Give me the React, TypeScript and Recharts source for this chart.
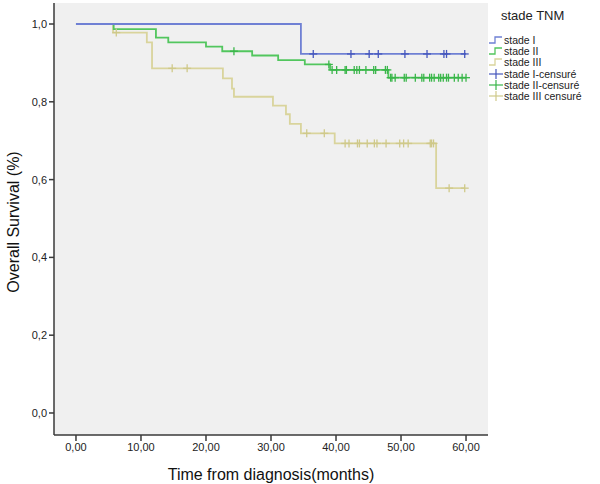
import React from "react"
import {
  ComposedChart,
  Line,
  Scatter,
  XAxis,
  YAxis,
  CartesianGrid,
} from "recharts"

// Kaplan-Meier steps (time in months, survival)
const stageI = [
  { t: 0, s: 1 },
  { t: 34.6, s: 0.923 },
  { t: 60, s: 0.923 },
]

const stageII = [
  { t: 0, s: 1 },
  { t: 5.8, s: 0.987 },
  { t: 12.3, s: 0.965 },
  { t: 14.2, s: 0.953 },
  { t: 20, s: 0.942 },
  { t: 22.5, s: 0.93 },
  { t: 27.1, s: 0.919 },
  { t: 31.1, s: 0.907 },
  { t: 35.2, s: 0.896 },
  { t: 39.1, s: 0.882 },
  { t: 48.05, s: 0.862 },
  { t: 60, s: 0.862 },
]

const stageIII = [
  { t: 0, s: 1 },
  { t: 5.7, s: 0.978 },
  { t: 10.9, s: 0.953 },
  { t: 11.7, s: 0.886 },
  { t: 22.6, s: 0.86 },
  { t: 24, s: 0.834 },
  { t: 24.3, s: 0.813 },
  { t: 30.3, s: 0.79 },
  { t: 32.3, s: 0.768 },
  { t: 32.9, s: 0.743 },
  { t: 34.6, s: 0.719 },
  { t: 39.8, s: 0.693 },
  { t: 55.4, s: 0.578 },
  { t: 59.8, s: 0.578 },
]

// censored observations
const censI = [36.5, 42.3, 45.1, 46.5, 50.6, 54, 56.6, 57, 59.8].map((t) => ({ t, s: 0.923 }))

const censII = [
  { t: 24.3, s: 0.93 },
  { t: 38.9, s: 0.896 },
  ...[39.4, 40.1, 41.4, 41.6, 42.8, 43.2, 43.6, 44.6, 45.8, 46.1, 47.6, 47.9].map((t) => ({ t, s: 0.882 })),
  ...[48.4, 48.6, 49.1, 50.5, 50.8, 52.2, 53.2, 53.5, 54.4, 54.7, 55.1, 55.8, 56.1, 56.5, 57.0, 57.3, 58.2, 58.8, 59.4, 60].map(
    (t) => ({ t, s: 0.862 })
  ),
]

const censIII = [
  { t: 6.2, s: 0.978 },
  { t: 14.8, s: 0.886 },
  { t: 17.1, s: 0.886 },
  { t: 35.5, s: 0.719 },
  { t: 38.2, s: 0.719 },
  ...[41.4, 42.0, 43.3, 43.6, 44.8, 45.9, 46.3, 47.7, 49.8, 50.4, 51.1, 54.5, 54.7, 55.0].map((t) => ({ t, s: 0.693 })),
  { t: 57.4, s: 0.578 },
  { t: 59.8, s: 0.578 },
]

const xTicks = [0, 10, 20, 30, 40, 50, 60]
const yTicks = [0, 0.2, 0.4, 0.6, 0.8, 1]

const legendItems = [
  { label: "stade I", color: "#6f80d4", kind: "line" },
  { label: "stade II", color: "#52c65e", kind: "line" },
  { label: "stade III", color: "#d9d49c", kind: "line" },
  { label: "stade I-censuré", color: "#4556bd", kind: "cross" },
  { label: "stade II-censuré", color: "#3ab64a", kind: "cross" },
  { label: "stade III censuré", color: "#cfc98a", kind: "cross" },
]

const font = "Liberation Sans, Arial, sans-serif"

const cross = (color: string) => (props: any) => {
  const { cx, cy } = props
  if (cx == null || cy == null) return <g />
  return (
    <g stroke={color} strokeWidth={1.3}>
      <line x1={cx - 4} y1={cy} x2={cx + 4} y2={cy} />
      <line x1={cx} y1={cy - 4} x2={cx} y2={cy + 4} />
    </g>
  )
}

function LegendBox() {
  return (
    <div style={{ position: "absolute", left: 489, top: 5, width: 111, overflow: "hidden", fontFamily: font, color: "#222" }}>
      <div style={{ fontSize: 13, marginLeft: 12, marginBottom: 11, marginTop: 3 }}>stade TNM</div>
      {legendItems.map((it) => (
        <div key={it.label} style={{ display: "flex", alignItems: "center", height: 11.3, fontSize: 10.5, whiteSpace: "nowrap" }}>
          <svg width={14} height={10} style={{ marginRight: 1, flexShrink: 0 }}>
            {it.kind === "line" ? (
              <path d="M0,8 H6 V2 H13" fill="none" stroke={it.color} strokeWidth={1.3} />
            ) : (
              <g stroke={it.color} strokeWidth={1.2}>
                <line x1={0} y1={5} x2={14} y2={5} />
                <line x1={7} y1={0} x2={7} y2={10} />
              </g>
            )}
          </svg>
          <span>{it.label}</span>
        </div>
      ))}
    </div>
  )
}

const YLabel = () => (
  <text
    x={13}
    y={222}
    transform="rotate(-90 13 222)"
    textAnchor="middle"
    dominantBaseline="central"
    fill="#111"
    fontSize={16}
    fontFamily={font}
  >
    Overall  Survival (%)
  </text>
)

export default function App() {
  return (
    <div style={{ position: "absolute", left: 0, top: 0, width: 600, height: 484, background: "#fff" }}>
      <ComposedChart width={600} height={484} margin={{ top: 3, right: 112, bottom: 0, left: 0 }}>
        <CartesianGrid horizontal={false} vertical={false} fill="#f0f0f0" />
        <XAxis
          xAxisId="b"
          type="number"
          dataKey="t"
          domain={[-3.38, 63.38]}
          ticks={xTicks}
          tickFormatter={(v) => v.toFixed(2).replace(".", ",")}
          height={49}
          stroke="#3a3a3a"
          strokeWidth={1.5}
          tick={{ fill: "#222", fontSize: 11, fontFamily: font }}
          tickSize={6}
          label={{ value: "Time from diagnosis(months)", position: "insideBottom", offset: 4, fill: "#111", fontSize: 16, fontFamily: font }}
          allowDataOverflow
        />
        <XAxis xAxisId="t" orientation="top" type="number" domain={[-3.38, 63.38]} height={0} tick={false} tickLine={false} stroke="#3a3a3a" strokeWidth={1.5} />
        <YAxis
          yAxisId="l"
          type="number"
          dataKey="s"
          domain={[-0.0566, 1.054]}
          ticks={yTicks}
          tickFormatter={(v) => v.toFixed(1).replace(".", ",")}
          width={54}
          stroke="#3a3a3a"
          strokeWidth={1.5}
          tick={{ fill: "#222", fontSize: 11, fontFamily: font }}
          tickSize={5}
          label={<YLabel />}
          allowDataOverflow
        />
        <YAxis yAxisId="r" orientation="right" type="number" domain={[-0.0566, 1.054]} width={0} tick={false} tickLine={false} stroke="#3a3a3a" strokeWidth={1.5} />
        <Line xAxisId="b" yAxisId="l" data={stageIII} dataKey="s" type="stepAfter" stroke="#d9d49c" strokeWidth={1.8} dot={false} isAnimationActive={false} />
        <Line xAxisId="b" yAxisId="l" data={stageII} dataKey="s" type="stepAfter" stroke="#52c65e" strokeWidth={1.8} dot={false} isAnimationActive={false} />
        <Line xAxisId="b" yAxisId="l" data={stageI} dataKey="s" type="stepAfter" stroke="#6f80d4" strokeWidth={1.8} dot={false} isAnimationActive={false} />
        <Scatter xAxisId="b" yAxisId="l" data={censIII} dataKey="s" shape={cross("#cfc98a")} isAnimationActive={false} />
        <Scatter xAxisId="b" yAxisId="l" data={censII} dataKey="s" shape={cross("#3ab64a")} isAnimationActive={false} />
        <Scatter xAxisId="b" yAxisId="l" data={censI} dataKey="s" shape={cross("#4556bd")} isAnimationActive={false} />
      </ComposedChart>
      <LegendBox />
    </div>
  )
}
